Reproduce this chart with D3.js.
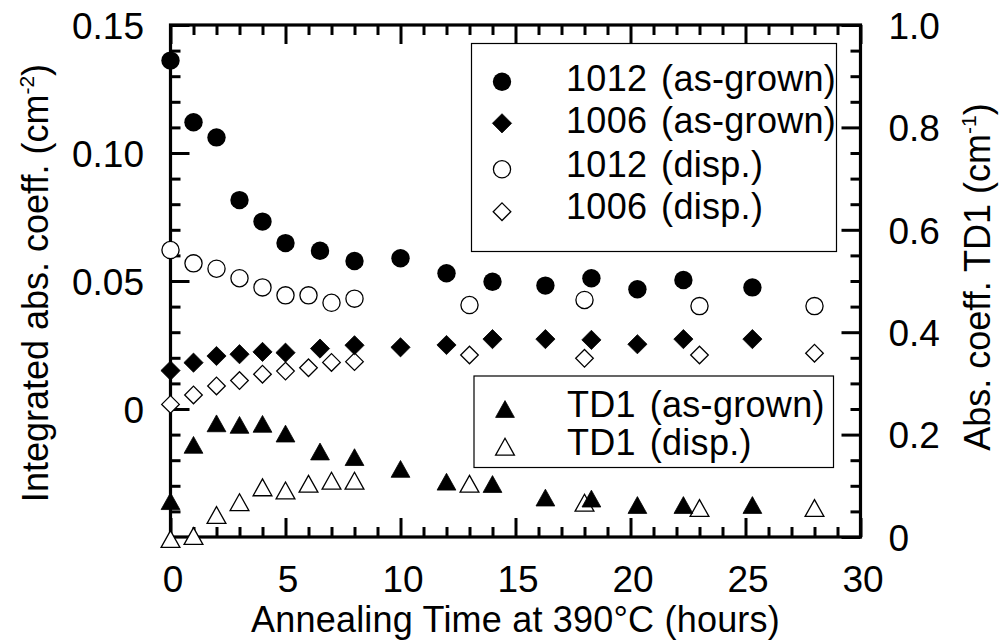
<!DOCTYPE html>
<html><head><meta charset="utf-8">
<script src="https://cdn.jsdelivr.net/npm/d3@7"></script>
<style>
html,body{margin:0;padding:0;background:#fff;}
svg{display:block;font-family:"Liberation Sans",Arial,Helvetica,sans-serif;}
</style></head><body>
<svg id="chart" width="1004" height="644"></svg>
<script>
// ---- data ----
const hoursAsGrown = [0,1,2,3,4,5,6.5,8,10,12,14,16.3,18.3,20.3,22.3,25.3];
const hoursDisp    = [0,1,2,3,4,5,6,7,8,13,18,23,28];
const s1012AsGrown = [0.1361,0.1120,0.1061,0.0816,0.0732,0.0648,0.0618,0.0578,0.0589,0.0530,0.0497,0.0482,0.0511,0.0468,0.0504,0.0475];
const s1006AsGrown = [0.0150,0.0181,0.0207,0.0214,0.0223,0.0220,0.0236,0.0249,0.0241,0.0250,0.0273,0.0273,0.0270,0.0253,0.0273,0.0273];
const s1012Disp    = [0.0621,0.0569,0.0548,0.0511,0.0475,0.0444,0.0444,0.0415,0.0431,0.0406,0.0426,0.0402,0.0402];
const s1006Disp    = [0.0018,0.0055,0.0090,0.0111,0.0136,0.0148,0.0161,0.0182,0.0185,0.0211,0.0198,0.0211,0.0218];
const td1AsGrown   = [0.070,0.180,0.222,0.219,0.221,0.202,0.167,0.156,0.133,0.108,0.1035,0.077,0.075,0.0625,0.0625,0.0625];
const td1Disp      = [-0.004,0.002,0.043,0.068,0.097,0.091,0.104,0.110,0.110,0.104,0.067,0.0566,0.0566];

const xTickValues = [0,5,10,15,20,25,30];
const xTickLabels = ["0","5","10","15","20","25","30"];
const yLeftTickValues = [0,0.05,0.10,0.15];
const yLeftTickLabels = ["0","0.05","0.10","0.15"];
const yRightTickValues = [0,0.2,0.4,0.6,0.8,1.0];
const yRightTickLabels = ["0","0.2","0.4","0.6","0.8","1.0"];

const legend1Labels = ["1012 (as-grown)","1006 (as-grown)","1012 (disp.)","1006 (disp.)"];
const legend2Labels = ["TD1 (as-grown)","TD1 (disp.)"];

// ---- layout ----
const L = 170.5, R = 860.5, T = 25, B = 537;
const FS = 36, TFS = 37;
const svg = d3.select("#chart");

const x = d3.scaleLinear().domain([0,30]).range([L,R]);
const yL = d3.scaleLinear().domain([-0.05,0.15]).range([B,T]);
const yR = d3.scaleLinear().domain([0,1]).range([B,T]);

function styleAxis(g){
  g.select(".domain").remove();
  g.selectAll(".tick line").attr("stroke","#000").attr("stroke-width",3);
  g.selectAll("text").attr("font-size",TFS).attr("fill","#000")
   .attr("font-family",'"Liberation Sans",Arial,sans-serif');
  g.attr("font-family",null).attr("font-size",null);
}
const MAJ = 19, MIN = 10;

// bottom
const gB = svg.append("g").attr("transform",`translate(0,${B})`);
gB.call(d3.axisBottom(x).tickValues(d3.range(0,31,1).filter(v=>v%5)).tickSize(-MIN).tickFormat("")).call(styleAxis);
const gB2 = svg.append("g").attr("transform",`translate(0,${B})`);
gB2.call(d3.axisBottom(x).tickValues(xTickValues).tickSize(-MAJ).tickPadding(29)
  .tickFormat((d,i)=>xTickLabels[i])).call(styleAxis);
gB2.selectAll("text").attr("dx",2);
// top
svg.append("g").attr("transform",`translate(0,${T})`)
  .call(d3.axisTop(x).tickValues(d3.range(0,31,1).filter(v=>v%5)).tickSize(-MIN).tickFormat("")).call(styleAxis);
svg.append("g").attr("transform",`translate(0,${T})`)
  .call(d3.axisTop(x).tickValues(xTickValues).tickSize(-MAJ).tickFormat("")).call(styleAxis);
// left
svg.append("g").attr("transform",`translate(${L},0)`)
  .call(d3.axisLeft(yL).tickValues(d3.range(-5,16,1).filter(v=>v%5).map(v=>v/100)).tickSize(-MIN).tickFormat("")).call(styleAxis);
svg.append("g").attr("transform",`translate(${L},0)`)
  .call(d3.axisLeft(yL).tickValues(yLeftTickValues).tickSize(-MAJ).tickPadding(26.5)
  .tickFormat((d,i)=>yLeftTickLabels[i])).call(styleAxis)
  .selectAll("text").attr("dy","0.36em");
// right
svg.append("g").attr("transform",`translate(${R},0)`)
  .call(d3.axisRight(yR).tickValues(d3.range(0,21,1).filter(v=>v%4).map(v=>v/20)).tickSize(-MIN).tickFormat("")).call(styleAxis);
svg.append("g").attr("transform",`translate(${R},0)`)
  .call(d3.axisRight(yR).tickValues(yRightTickValues).tickSize(-MAJ).tickPadding(28)
  .tickFormat((d,i)=>yRightTickLabels[i])).call(styleAxis)
  .selectAll("text").attr("dy","0.36em");

// frame
svg.append("rect").attr("x",L).attr("y",T).attr("width",R-L).attr("height",B-T)
  .attr("fill","none").attr("stroke","#000").attr("stroke-width",3.2);

// axis titles
svg.append("text").attr("x",(L+R)/2).attr("y",632).attr("text-anchor","middle")
  .attr("font-size",FS).attr("letter-spacing",0.2).text("Annealing Time at 390°C (hours)");

const ylab = svg.append("text").attr("transform",`translate(48,${(T+B)/2+2}) rotate(-90)`)
  .attr("text-anchor","middle").attr("font-size",FS);
ylab.append("tspan").text("Integrated abs. coeff. (cm");
ylab.append("tspan").attr("dy",-14).attr("font-size",21).text("-2");
ylab.append("tspan").attr("dy",14).text(")");

const yrlab = svg.append("text").attr("transform",`translate(990,${(T+B)/2-4}) rotate(-90)`)
  .attr("text-anchor","middle").attr("font-size",FS);
yrlab.append("tspan").text("Abs. coeff. TD1 (cm");
yrlab.append("tspan").attr("dy",-14).attr("font-size",21).text("-1");
yrlab.append("tspan").attr("dy",14).text(")");

// ---- marker shapes ----
function shapePath(kind){
  const p = d3.path();
  if(kind==="circle"){ p.arc(0,0,9.2,0,2*Math.PI); }
  else if(kind==="ocircle"){ p.arc(0,0,8.6,0,2*Math.PI); }
  else if(kind==="diamond"){ const h=9.6; p.moveTo(0,-h); p.lineTo(h,0); p.lineTo(0,h); p.lineTo(-h,0); p.closePath(); }
  else if(kind==="odiamond"){ const h=8.8; p.moveTo(0,-h); p.lineTo(h,0); p.lineTo(0,h); p.lineTo(-h,0); p.closePath(); }
  else if(kind==="triangle" || kind==="otriangle"){ const w=9.4, hh=8.4; p.moveTo(0,-hh); p.lineTo(w,hh); p.lineTo(-w,hh); p.closePath(); }
  return p.toString();
}
const styles = {
  circle:{fill:"#000",stroke:"none",sw:0},
  ocircle:{fill:"#fff",stroke:"#000",sw:1.3},
  diamond:{fill:"#000",stroke:"#000",sw:0.8},
  odiamond:{fill:"#fff",stroke:"#000",sw:1.3},
  triangle:{fill:"#000",stroke:"#000",sw:0.8},
  otriangle:{fill:"#fff",stroke:"#000",sw:1.3}
};
function drawSeries(xs, ys, yScale, kind){
  const st = styles[kind];
  svg.append("g").selectAll("path").data(xs.map((d,i)=>[d,ys[i]])).join("path")
    .attr("d",shapePath(kind))
    .attr("transform",d=>`translate(${x(d[0])},${yScale(d[1])})`)
    .attr("fill",st.fill).attr("stroke",st.stroke).attr("stroke-width",st.sw);
}
drawSeries(hoursDisp, s1006Disp, yL, "odiamond");
drawSeries(hoursDisp, s1012Disp, yL, "ocircle");
drawSeries(hoursAsGrown, s1006AsGrown, yL, "diamond");
drawSeries(hoursAsGrown, s1012AsGrown, yL, "circle");
drawSeries(hoursDisp, td1Disp, yR, "otriangle");
drawSeries(hoursAsGrown, td1AsGrown, yR, "triangle");

// ---- legends ----
function legend(box, rows, kinds, labels){
  svg.append("rect").attr("x",box[0]).attr("y",box[1]).attr("width",box[2]-box[0]).attr("height",box[3]-box[1])
    .attr("fill","#fff").attr("stroke","#000").attr("stroke-width",1.2);
  labels.forEach((lab,i)=>{
    const st = styles[kinds[i]];
    svg.append("path").attr("d",shapePath(kinds[i]))
      .attr("transform",`translate(${rows.mx},${rows.my[i]})`)
      .attr("fill",st.fill).attr("stroke",st.stroke).attr("stroke-width",st.sw);
    svg.append("text").attr("x",rows.tx).attr("y",rows.ty[i]).attr("font-size",FS)
      .attr("word-spacing",3.5).attr("letter-spacing",0.3).text(lab);
  });
}
legend([471.5,43.5,836.5,251.5], {mx:502, my:[81.7,123.3,169.3,211.7], tx:566, ty:[91,132.7,176.7,219.3]},
  ["circle","diamond","ocircle","odiamond"], legend1Labels);
legend([474,376,833.5,467.5], {mx:505, my:[409,446.7], tx:567, ty:[416.7,455]},
  ["triangle","otriangle"], legend2Labels);
</script>
</body></html>
